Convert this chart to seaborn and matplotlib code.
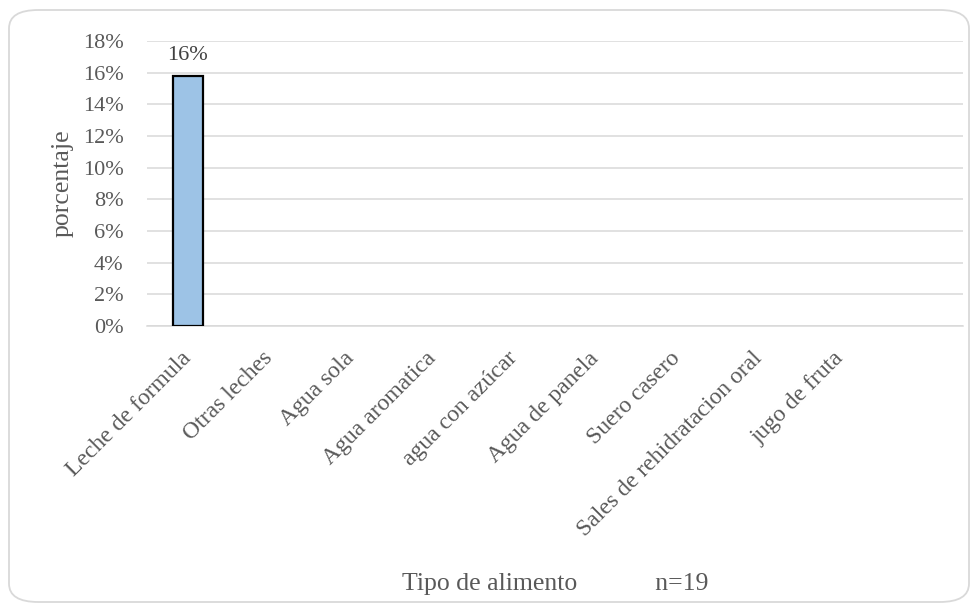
import matplotlib
matplotlib.use("Agg")
import matplotlib.pyplot as plt
from matplotlib.patches import FancyBboxPatch
from matplotlib.ticker import PercentFormatter
import seaborn as sns
import pandas as pd

categorias = [
    "Leche de formula", "Otras leches", "Agua sola", "Agua aromatica",
    "agua con azúcar", "Agua de panela", "Suero casero",
    "Sales de rehidratacion oral", "jugo de fruta",
]
porcentajes = [0.158, 0, 0, 0, 0, 0, 0, 0, 0]
y_ticks = [0, 0.02, 0.04, 0.06, 0.08, 0.10, 0.12, 0.14, 0.16, 0.18]

sns.set_theme(style="white")
plt.rcParams["font.family"] = ["Liberation Serif", "DejaVu Serif"]
texto = "#595959"
rejilla = "#d9d9d9"

df = pd.DataFrame({"alimento": categorias, "porcentaje": porcentajes})

W, H = 978, 611
fig = plt.figure(figsize=(W / 100, H / 100), dpi=100)
fig.patch.set_facecolor("white")

# rounded chart-area border
marco = FancyBboxPatch((9 / W, 9 / H), 960 / W, 592 / H,
                       boxstyle="round,pad=0,rounding_size=0.03",
                       transform=fig.transFigure, facecolor="none",
                       edgecolor=rejilla, linewidth=1.3, zorder=-1)
fig.patches.append(marco)

ax = fig.add_axes([147 / W, 1 - 326 / H, (963 - 147) / W, (326 - 41) / H])
ax.set_facecolor("none")

sns.barplot(data=df, x="alimento", y="porcentaje", ax=ax, width=0.37,
            color="#9DC3E6", saturation=1, edgecolor="black", linewidth=1.6,
            zorder=3)

for p in ax.patches:
    if p.get_height() == 0:
        p.set_linewidth(0)

etiquetas = [f"{v:.0%}" if v > 0 else "" for v in porcentajes]
ax.bar_label(ax.containers[0], labels=etiquetas, padding=8,
             fontsize=16, color="#404040")

ax.set_ylim(0, 0.18)
ax.set_yticks(y_ticks)
ax.yaxis.set_major_formatter(PercentFormatter(1.0, decimals=0))
# one empty category slot is kept at the right end of the axis
ax.set_xlim(-0.5, len(categorias) + 0.5)

ax.grid(axis="y", color=rejilla, linewidth=1.1, zorder=0)
ax.grid(axis="x", visible=False)
for s in ["top", "right", "left"]:
    ax.spines[s].set_visible(False)
ax.spines["bottom"].set_color(rejilla)
ax.spines["bottom"].set_linewidth(1.1)

ax.tick_params(axis="y", length=0, pad=17, labelsize=16, labelcolor=texto)
ax.tick_params(axis="x", length=0, pad=21, labelsize=17, labelcolor=texto)
plt.setp(ax.get_xticklabels(), rotation=45, ha="right", va="center",
         rotation_mode="anchor")

ax.set_xlabel("Tipo de alimento            n=19", fontsize=18.5,
              color=texto, va="baseline")
ax.xaxis.set_label_coords(0.5, (326 - 590) / (326 - 41))
ax.set_ylabel("porcentaje", fontsize=18.5, color=texto, va="center")
ax.yaxis.set_label_coords((63 - 147) / (963 - 147), 0.5)

fig.savefig("out.png", dpi=100, facecolor="white")
